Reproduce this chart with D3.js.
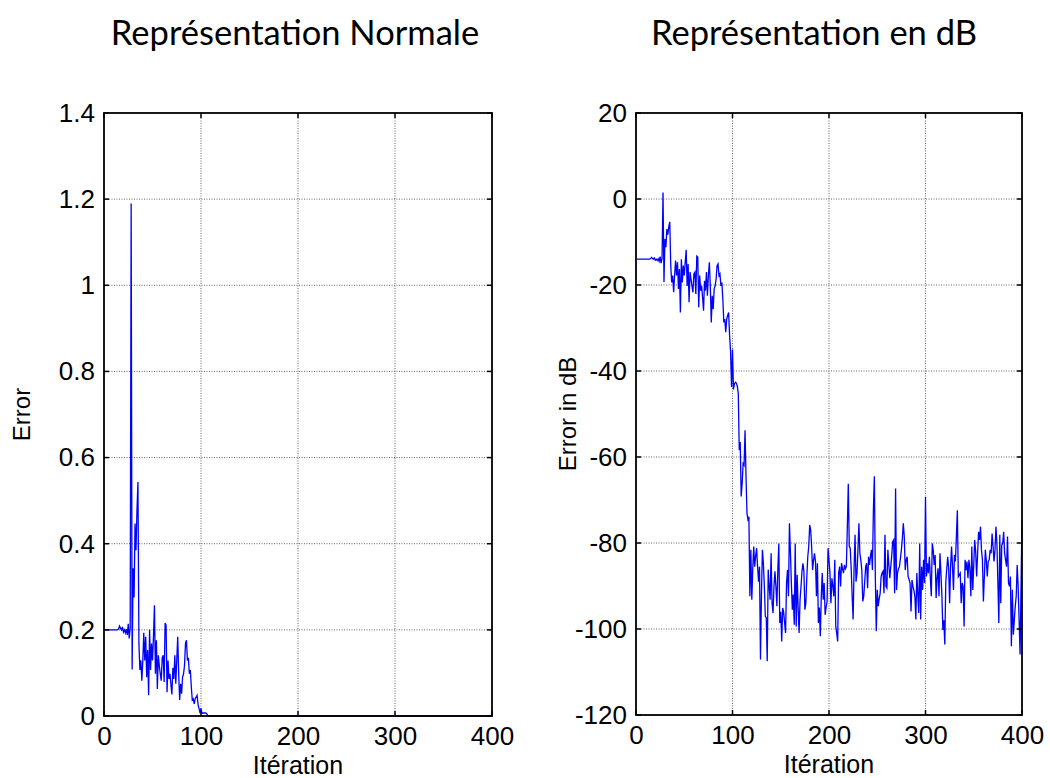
<!DOCTYPE html>
<html>
<head>
<meta charset="utf-8">
<script src="https://cdn.jsdelivr.net/npm/d3@7/dist/d3.min.js"></script>
<style>
  body { margin: 0; background: #fff; }
  svg { display: block; }
</style>
</head>
<body>
<div id="chart"></div>
<script>
(function () {
  'use strict';

  // iteration index 1..400
  var iterations = d3.range(1, 401);

  // error in dB
  var errorDb = [
    -14.0, -14.0, -14.0, -14.0, -14.0, -14.0, -14.0, -14.0, -14.0, -14.0,
    -14.0, -14.0, -14.0, -14.0, -13.9, -13.6, -13.8, -14.0, -13.7, -14.2,
    -14.0, -14.3, -13.9, -14.5, -13.4, -14.9, -13.8, 1.5, -19.3, -9.3,
    -11.2, -7.0, -8.3, -6.4, -5.3, -15.5, -19.4, -17.8, -21.7, -17.8,
    -14.3, -17.8, -14.7, -20.9, -16.3, -26.4, -14.0, -19.4, -15.5, -17.8,
    -14.7, -11.8, -20.2, -15.1, -24.0, -17.0, -18.6, -20.2, -21.7, -17.4,
    -17.0, -22.1, -13.3, -13.5, -25.2, -17.8, -21.3, -20.2, -22.9, -26.0,
    -19.0, -21.3, -17.0, -22.5, -17.8, -14.7, -20.2, -28.7, -22.5, -25.6,
    -20.9, -20.2, -18.6, -15.5, -15.1, -17.8, -17.4, -20.2, -19.4, -23.3,
    -28.7, -27.9, -31.0, -27.9, -27.1, -26.4, -31.8, -35.5, -43.7, -35.0,
    -44.3, -43.0, -42.6, -42.8, -43.5, -45.3, -58.4, -56.5, -69.2, -66.1,
    -61.5, -61.9, -53.8, -64.6, -73.1, -74.5, -73.9, -92.4, -81.6, -93.2,
    -86.0, -80.8, -85.5, -83.0, -81.2, -85.5, -89.0, -85.5, -107.1, -92.0,
    -81.6, -84.7, -90.0, -97.0, -97.4, -107.5, -86.2, -90.0, -93.2, -82.4,
    -94.0, -96.3, -90.0, -86.6, -90.1, -94.7, -86.0, -80.1, -98.6, -96.0,
    -102.9, -95.1, -96.0, -98.6, -100.9, -89.3, -86.3, -92.4, -75.4, -82.0,
    -89.3, -95.5, -92.0, -99.0, -80.1, -99.4, -87.4, -95.0, -100.9, -93.2,
    -90.1, -86.6, -84.7, -86.6, -95.5, -94.0, -88.0, -83.2, -80.8, -75.8,
    -77.0, -80.8, -86.3, -84.0, -82.4, -84.3, -92.4, -84.7, -98.6, -95.0,
    -101.7, -92.4, -87.0, -93.2, -89.3, -96.7, -95.0, -93.6, -81.2, -84.0,
    -87.0, -94.0, -88.2, -90.0, -92.4, -83.9, -99.4, -101.0, -102.9, -87.0,
    -85.5, -90.1, -84.7, -86.0, -87.0, -85.1, -86.0, -85.5, -76.2, -66.2,
    -80.8, -81.2, -86.0, -92.4, -97.8, -85.5, -78.1, -89.0, -87.0, -81.6,
    -75.4, -82.4, -84.0, -86.3, -93.6, -92.4, -89.0, -85.5, -84.7, -90.5,
    -83.2, -85.1, -83.0, -81.6, -86.3, -72.4, -64.5, -87.8, -100.5, -90.9,
    -94.7, -93.0, -91.7, -87.8, -87.0, -86.6, -91.7, -78.1, -90.1, -90.5,
    -81.6, -85.0, -88.2, -85.5, -83.0, -79.7, -79.3, -91.7, -67.3, -90.9,
    -87.0, -86.0, -85.5, -83.6, -81.6, -79.0, -75.4, -78.5, -86.3, -83.9,
    -83.2, -87.8, -88.5, -89.3, -95.9, -88.6, -90.1, -91.0, -92.4, -97.8,
    -87.0, -92.0, -96.3, -80.1, -97.8, -85.5, -90.9, -83.9, -89.3, -69.3,
    -87.8, -84.7, -87.0, -83.2, -88.0, -92.4, -80.1, -81.6, -85.1, -82.8,
    -92.8, -88.0, -85.9, -92.4, -82.4, -87.0, -92.4, -100.2, -98.0, -103.6,
    -89.3, -86.0, -83.2, -85.9, -94.0, -85.5, -80.8, -85.5, -90.9, -82.8,
    -84.3, -78.5, -72.4, -87.8, -87.4, -87.0, -94.0, -89.3, -90.1, -99.4,
    -83.9, -86.3, -84.3, -88.2, -83.9, -86.0, -92.4, -80.8, -90.9, -85.1,
    -79.3, -82.0, -87.8, -82.4, -77.4, -79.3, -76.2, -81.6, -83.9, -93.6,
    -87.8, -81.6, -84.0, -87.8, -84.3, -83.9, -81.6, -82.4, -77.8, -80.8,
    -84.3, -81.6, -76.2, -80.1, -89.0, -98.6, -78.1, -94.0, -80.5, -80.1,
    -77.4, -82.4, -84.0, -85.5, -78.5, -89.3, -90.1, -87.8, -104.0, -90.9,
    -101.3, -98.0, -94.7, -92.4, -85.1, -90.1, -97.8, -105.9, -90.1, -74.7
  ];

  // linear error (flat at 0 after ~110)
  var errorLin = [
    0.2, 0.2, 0.2, 0.2, 0.2, 0.2, 0.2, 0.2, 0.2, 0.2,
    0.2, 0.2, 0.2, 0.2, 0.202, 0.209, 0.204, 0.2, 0.207, 0.195,
    0.2, 0.193, 0.202, 0.188, 0.214, 0.18, 0.204, 1.19, 0.108, 0.343,
    0.275, 0.447, 0.385, 0.479, 0.543, 0.168, 0.107, 0.129, 0.082, 0.129,
    0.193, 0.129, 0.184, 0.09, 0.153, 0.048, 0.2, 0.107, 0.168, 0.129,
    0.184, 0.257, 0.098, 0.176, 0.063, 0.141, 0.117, 0.098, 0.082, 0.135,
    0.141, 0.079, 0.216, 0.211, 0.055, 0.129, 0.086, 0.098, 0.072, 0.05,
    0.112, 0.086, 0.141, 0.075, 0.129, 0.184, 0.098, 0.037, 0.075, 0.052,
    0.09, 0.098, 0.117, 0.168, 0.176, 0.129, 0.135, 0.098, 0.107, 0.068,
    0.037, 0.04, 0.028, 0.04, 0.044, 0.048, 0.026, 0.017, 0.007, 0.018,
    0.006, 0.007, 0.007, 0.007, 0.007, 0.005, 0.001, 0.001, 0, 0,
    0, 0, 0, 0, 0, 0, 0, 0, 0, 0, 0, 0, 0, 0, 0, 0, 0, 0, 0, 0,
    0, 0, 0, 0, 0, 0, 0, 0, 0, 0, 0, 0, 0, 0, 0, 0, 0, 0, 0, 0,
    0, 0, 0, 0, 0, 0, 0, 0, 0, 0, 0, 0, 0, 0, 0, 0, 0, 0, 0, 0,
    0, 0, 0, 0, 0, 0, 0, 0, 0, 0, 0, 0, 0, 0, 0, 0, 0, 0, 0, 0,
    0, 0, 0, 0, 0, 0, 0, 0, 0, 0, 0, 0, 0, 0, 0, 0, 0, 0, 0, 0,
    0, 0, 0, 0, 0, 0, 0, 0, 0, 0, 0, 0, 0, 0, 0, 0, 0, 0, 0, 0,
    0, 0, 0, 0, 0, 0, 0, 0, 0, 0, 0, 0, 0, 0, 0, 0, 0, 0, 0, 0,
    0, 0, 0, 0, 0, 0, 0, 0, 0, 0, 0, 0, 0, 0, 0, 0, 0, 0, 0, 0,
    0, 0, 0, 0, 0, 0, 0, 0, 0, 0, 0, 0, 0, 0, 0, 0, 0, 0, 0, 0,
    0, 0, 0, 0, 0, 0, 0, 0, 0, 0, 0, 0, 0, 0, 0, 0, 0, 0, 0, 0,
    0, 0, 0, 0, 0, 0, 0, 0, 0, 0, 0, 0, 0, 0, 0, 0, 0, 0, 0, 0,
    0, 0, 0, 0, 0, 0, 0, 0, 0, 0, 0, 0, 0, 0, 0, 0, 0, 0, 0, 0,
    0, 0, 0, 0, 0, 0, 0, 0, 0, 0, 0, 0, 0, 0, 0, 0, 0, 0, 0, 0,
    0, 0, 0, 0, 0, 0, 0, 0, 0, 0, 0, 0, 0, 0, 0, 0, 0, 0, 0, 0,
    0, 0, 0, 0, 0, 0, 0, 0, 0, 0
  ];

  var xTicks = [0, 100, 200, 300, 400];
  var linTicks = [0, 0.2, 0.4, 0.6, 0.8, 1, 1.2, 1.4];
  var dbTicks = [-120, -100, -80, -60, -40, -20, 0, 20];
  var titles = ['Représentation Normale', 'Représentation en dB'];
  var yLabels = ['Error', 'Error in dB'];
  var xLabel = 'Itération';

  var width = 1050,
    height = 778,
    tickLen = 5,
    axisFont = '"Liberation Sans", Arial, sans-serif';

  var svg = d3.select('#chart')
    .append('svg')
    .attr('width', width)
    .attr('height', height);

  function drawPanel(p) {
    var x = d3.scaleLinear().domain([0, 400]).range([p.left, p.right]);
    var y = d3.scaleLinear().domain(p.domain).range([p.bottom, p.top]);
    var g = svg.append('g');

    // dotted grid
    g.selectAll('.vgrid')
      .data(xTicks.slice(1, -1))
      .enter().append('line')
      .attr('x1', function (d) { return x(d); })
      .attr('x2', function (d) { return x(d); })
      .attr('y1', p.top).attr('y2', p.bottom)
      .attr('stroke', '#666').attr('stroke-width', 1)
      .attr('stroke-dasharray', '1,1.5');
    g.selectAll('.hgrid')
      .data(p.ticks.slice(1, -1))
      .enter().append('line')
      .attr('y1', function (d) { return y(d); })
      .attr('y2', function (d) { return y(d); })
      .attr('x1', p.left).attr('x2', p.right)
      .attr('stroke', '#666').attr('stroke-width', 1)
      .attr('stroke-dasharray', '1,1.5');

    // data line
    var line = d3.line()
      .x(function (d, i) { return x(iterations[i]); })
      .y(function (d) { return y(d); });
    g.append('path')
      .datum(p.values)
      .attr('d', line)
      .attr('fill', 'none')
      .attr('stroke', '#0000ff')
      .attr('stroke-width', 1.3);

    // inner ticks on all four sides
    var tk = g.append('g').attr('stroke', '#000').attr('stroke-width', 1.5);
    p.ticks.forEach(function (t) {
      tk.append('line').attr('x1', p.left).attr('x2', p.left + tickLen)
        .attr('y1', y(t)).attr('y2', y(t));
      tk.append('line').attr('x1', p.right - tickLen).attr('x2', p.right)
        .attr('y1', y(t)).attr('y2', y(t));
    });
    xTicks.forEach(function (t) {
      tk.append('line').attr('x1', x(t)).attr('x2', x(t))
        .attr('y1', p.bottom).attr('y2', p.bottom - tickLen);
      tk.append('line').attr('x1', x(t)).attr('x2', x(t))
        .attr('y1', p.top).attr('y2', p.top + tickLen);
    });

    // box
    g.append('rect')
      .attr('x', p.left).attr('y', p.top)
      .attr('width', p.right - p.left).attr('height', p.bottom - p.top)
      .attr('fill', 'none').attr('stroke', '#000').attr('stroke-width', 1.8);

    // tick labels via d3 axes
    var yAxis = d3.axisLeft(y).tickValues(p.ticks).tickSize(0).tickPadding(9)
      .tickFormat(p.format);
    g.append('g')
      .attr('transform', 'translate(' + p.left + ',0)')
      .call(yAxis)
      .call(function (s) { s.select('.domain').remove(); })
      .selectAll('text')
      .attr('font-family', axisFont).attr('font-size', 26).attr('fill', '#000');

    var xAxis = d3.axisBottom(x).tickValues(xTicks).tickSize(0).tickPadding(11)
      .tickFormat(d3.format('d'));
    g.append('g')
      .attr('transform', 'translate(0,' + p.bottom + ')')
      .call(xAxis)
      .call(function (s) { s.select('.domain').remove(); })
      .selectAll('text')
      .attr('font-family', axisFont).attr('font-size', 26).attr('fill', '#000');

    // labels and title
    g.append('text')
      .attr('x', (p.left + p.right) / 2).attr('y', p.bottom + 58)
      .attr('text-anchor', 'middle')
      .attr('font-family', axisFont).attr('font-size', 25)
      .text(xLabel);
    g.append('text')
      .attr('transform', 'translate(' + p.ylabelX + ',' + ((p.top + p.bottom) / 2) + ') rotate(-90)')
      .attr('text-anchor', 'middle')
      .attr('font-family', axisFont).attr('font-size', 24)
      .text(p.ylabel);
    g.append('text')
      .attr('x', p.titleX).attr('y', 45)
      .attr('text-anchor', 'middle')
      .attr('font-family', 'Lato, "Open Sans", sans-serif').attr('font-size', 34.5)
      .text(p.title);
  }

  drawPanel({
    left: 104, right: 492, top: 113, bottom: 716,
    domain: [0, 1.4], ticks: linTicks,
    format: function (d) { return String(+d.toFixed(1)); },
    values: errorLin, title: titles[0], titleX: 295,
    ylabel: yLabels[0], ylabelX: 30
  });

  drawPanel({
    left: 636, right: 1022, top: 113, bottom: 715,
    domain: [-120, 20], ticks: dbTicks,
    format: function (d) { return String(d); },
    values: errorDb, title: titles[1], titleX: 814,
    ylabel: yLabels[1], ylabelX: 576
  });
}());
</script>
</body>
</html>
